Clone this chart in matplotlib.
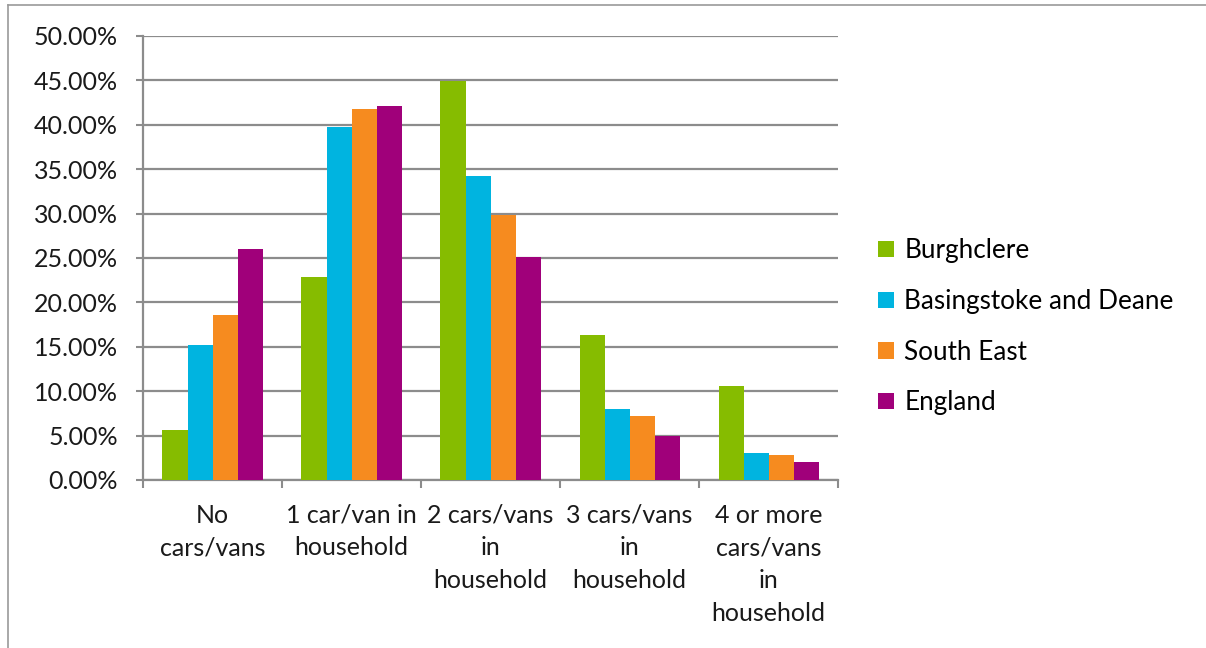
import matplotlib
matplotlib.use("Agg")
import matplotlib.pyplot as plt
import matplotlib.lines as mlines
import numpy as np

categories = ["No\ncars/vans", "1 car/van in\nhousehold", "2 cars/vans\nin\nhousehold",
              "3 cars/vans\nin\nhousehold", "4 or more\ncars/vans\nin\nhousehold"]
series_names = ["Burghclere", "Basingstoke and Deane", "South East", "England"]
burghclere = [5.6, 22.9, 44.9, 16.3, 10.6]
basingstoke = [15.2, 39.7, 34.2, 8.0, 3.0]
south_east = [18.6, 41.8, 29.8, 7.2, 2.8]
england = [26.0, 42.1, 25.1, 5.0, 2.0]
colors = ["#86bc00", "#00b4e0", "#f68b1f", "#a0007a"]

plt.rcParams["font.family"] = ["Lato", "DejaVu Sans"]
FS = 18

fig = plt.figure(figsize=(12.06, 6.48), dpi=100)
ax = fig.add_axes([0.1186, 0.2593, 0.5763, 0.6852])

x = np.arange(len(categories))
width = 0.18
for i, (vals, name) in enumerate(zip([burghclere, basingstoke, south_east, england], series_names)):
    ax.bar(x + (i - 1.5) * width, vals, width, color=colors[i], label=name, zorder=3, linewidth=0)

ax.set_xlim(-0.5, len(categories) - 0.5)
ax.set_ylim(0, 50)
ax.set_yticks(np.arange(0, 51, 5))
ax.set_yticklabels([f"{v:.2f}%" for v in np.arange(0, 51, 5)], fontsize=FS, color="#1a1a1a")
ax.yaxis.grid(True, color="#8c8c8c", linewidth=1.6, zorder=0)
ax.set_axisbelow(True)

ax.set_xticks(x)
ax.set_xticklabels(categories, fontsize=FS, color="#1a1a1a", linespacing=1.52)
ax.set_xticks(np.arange(-0.5, len(categories), 1), minor=True)
ax.tick_params(axis="x", which="major", length=0, pad=17)
ax.tick_params(axis="x", which="minor", length=6, width=1.5, color="#8c8c8c")
ax.tick_params(axis="y", length=5, width=1.5, color="#8c8c8c", pad=13)

for side in ["top", "right"]:
    ax.spines[side].set_visible(False)
for side in ["left", "bottom"]:
    ax.spines[side].set_color("#8c8c8c")
    ax.spines[side].set_linewidth(1.6)

ax.legend(loc="center left", bbox_to_anchor=(1.058, 0.345), frameon=False, fontsize=18.8,
          handlelength=0.6, handleheight=0.6, handletextpad=0.4, labelspacing=0.98,
          borderaxespad=0, borderpad=0)

# chart border
fig.add_artist(mlines.Line2D([8 / 1206, 1], [1 - 5 / 648, 1 - 5 / 648], color="#9a9a9a", linewidth=1.2))
fig.add_artist(mlines.Line2D([8 / 1206, 8 / 1206], [0, 1 - 5 / 648], color="#9a9a9a", linewidth=1.2))

fig.savefig("out.png", dpi=100)
